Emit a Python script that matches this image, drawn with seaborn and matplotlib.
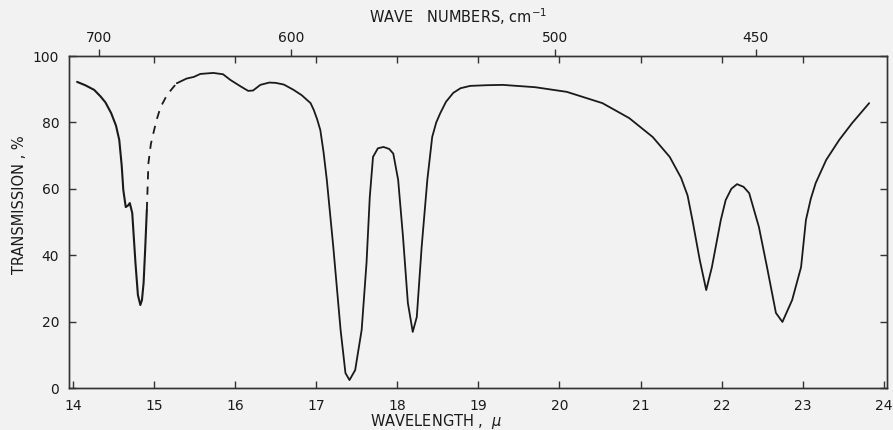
import matplotlib
matplotlib.use("Agg")
import matplotlib.pyplot as plt
import seaborn as sns
import pandas as pd
from matplotlib.ticker import FixedLocator, NullFormatter

# ---- data ----
# solid segment (left band)
wl_a = [14.05, 14.15, 14.26, 14.34, 14.40, 14.47, 14.53, 14.57, 14.60, 14.62,
        14.65, 14.68, 14.70, 14.73, 14.77, 14.80, 14.83, 14.85, 14.87, 14.89,
        14.91]
tr_a = [92.2, 91.2, 89.8, 87.8, 86.0, 82.8, 79.0, 74.7, 67.0, 59.6,
        54.5, 55.0, 55.7, 52.7, 37.6, 28.0, 25.0, 26.5, 31.6, 42.0,
        53.6]
# dashed segment
wl_d = [14.91, 14.93, 14.96, 15.00, 15.04, 15.08, 15.16, 15.24, 15.28]
tr_d = [53.6, 67.8, 73.5, 77.7, 81.5, 84.6, 88.3, 90.7, 91.8]
# solid segment (rest)
wl_b = [15.28, 15.40, 15.49, 15.57, 15.73, 15.85, 15.94, 16.07, 16.16, 16.22,
        16.31, 16.42, 16.50, 16.60, 16.72, 16.82, 16.93, 16.97, 17.01, 17.05,
        17.09, 17.13, 17.21, 17.30, 17.36, 17.41, 17.48, 17.56, 17.62, 17.66,
        17.70, 17.76, 17.83, 17.90, 17.95, 18.01, 18.07, 18.13, 18.19, 18.24,
        18.30, 18.37, 18.43, 18.48, 18.53, 18.60, 18.69, 18.78, 18.90, 19.10,
        19.30, 19.70, 20.09, 20.53, 20.86, 21.15, 21.36, 21.50, 21.58, 21.64,
        21.73, 21.81, 21.88, 21.99, 22.05, 22.12, 22.19, 22.27, 22.34, 22.46,
        22.56, 22.67, 22.75, 22.87, 22.98, 23.04, 23.10, 23.16, 23.29, 23.45,
        23.61, 23.82]
tr_b = [91.8, 93.2, 93.7, 94.6, 94.9, 94.5, 92.8, 90.8, 89.5, 89.6,
        91.3, 92.0, 91.9, 91.4, 89.8, 88.2, 85.8, 83.7, 81.0, 77.7,
        71.0, 62.7, 42.5, 17.5, 4.5, 2.4, 5.4, 17.5, 37.7, 57.5,
        69.6, 72.2, 72.6, 72.0, 70.6, 62.7, 45.5, 25.6, 16.9, 21.4,
        42.5, 62.7, 75.6, 80.0, 82.8, 86.2, 88.9, 90.3, 91.0, 91.2,
        91.3, 90.6, 89.2, 85.8, 81.3, 75.6, 69.6, 63.3, 58.0, 50.6,
        38.6, 29.5, 36.4, 50.6, 56.6, 60.0, 61.4, 60.6, 58.7, 48.5,
        36.4, 22.6, 19.9, 26.5, 36.4, 50.6, 57.0, 61.7, 68.7, 74.7,
        79.8, 85.8]

x_ticks = list(range(14, 25))
y_ticks = [0, 20, 40, 60, 80, 100]
wn_labels = ["700", "600", "500", "450"]
wn_pos = [14.32, 16.69, 19.95, 22.42]

# ---- styling ----
sns.set_style("ticks")
plt.rcParams["font.family"] = ["DejaVu Sans"]
bg = "#f2f2f2"
ink = "#1a1a1a"
fs = 10

fig = plt.figure(figsize=(8.93, 4.30), dpi=100, facecolor=bg)
ax = fig.add_axes([69 / 893, 1 - 388 / 430, 818 / 893, 332 / 430])
ax.set_facecolor(bg)

df_a = pd.DataFrame({"wl": wl_a, "tr": tr_a})
df_d = pd.DataFrame({"wl": wl_d, "tr": tr_d})
df_b = pd.DataFrame({"wl": wl_b, "tr": tr_b})

sns.lineplot(data=df_a, x="wl", y="tr", ax=ax, color=ink, lw=1.5,
             sort=False, estimator=None)
sns.lineplot(data=df_d, x="wl", y="tr", ax=ax, color=ink, lw=1.3,
             sort=False, estimator=None, linestyle=(0, (4.5, 4)))
sns.lineplot(data=df_b, x="wl", y="tr", ax=ax, color=ink, lw=1.3,
             sort=False, estimator=None)

ax.set_xlim(13.95, 24.04)
ax.set_ylim(0, 100)
for s in ax.spines.values():
    s.set_color("#333333")
    s.set_linewidth(1.0)

ax.set_xticks(x_ticks)
ax.set_xticklabels([str(v) for v in x_ticks])
ax.set_yticks(y_ticks)
ax.set_yticklabels([str(v) for v in y_ticks])
ax.tick_params(axis="both", direction="in", length=5, width=1.0,
               color="#333333", labelsize=fs, labelcolor=ink)
ax.tick_params(axis="x", pad=8)
ax.tick_params(axis="y", pad=7, right=True, labelright=False)

ax.set_xlabel("WAVELENGTH ,  $\\mu$", fontsize=10.5, color=ink)
ax.xaxis.set_label_coords(0.449, -0.073)
ax.set_ylabel("TRANSMISSION , %", fontsize=10.5, color=ink)
ax.yaxis.set_label_coords(-0.051, 0.551)

# top wave-number axis
top = ax.twiny()
top.set_xlim(ax.get_xlim())
top.set_xticks(wn_pos)
top.set_xticklabels(wn_labels)
top.xaxis.set_minor_locator(FixedLocator(x_ticks[1:-1]))
top.xaxis.set_minor_formatter(NullFormatter())
top.tick_params(axis="x", which="major", direction="out", length=5, width=1.0,
                color="#333333", labelsize=fs, labelcolor=ink, pad=3)
top.tick_params(axis="x", which="minor", direction="in", length=5, width=1.0,
                color="#333333")
top.set_xlabel("WAVE   NUMBERS, cm$^{-1}$", fontsize=10.5, color=ink)
top.xaxis.set_label_coords(0.4756, 1.099)
for s in top.spines.values():
    s.set_color("#333333")
    s.set_linewidth(1.0)

fig.savefig("out.png", dpi=100, facecolor=bg)
